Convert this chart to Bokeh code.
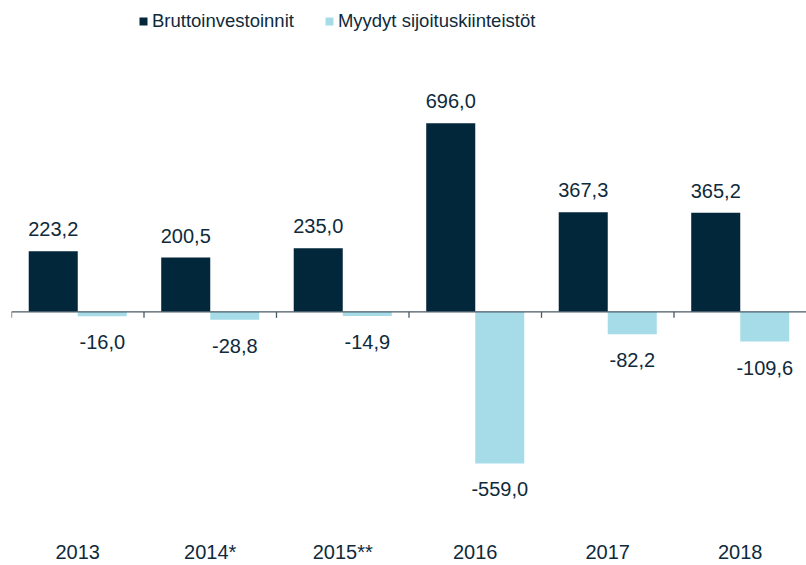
import math
from bokeh.plotting import figure
from bokeh.models import (ColumnDataSource, FactorRange, Range1d, CategoricalAxis,
                          Span, Legend, LegendItem)
from bokeh.transform import dodge
from bokeh.core.properties import value
from bokeh.embed import file_html
from bokeh.resources import INLINE

# ---- data ----
years = ["2013", "2014*", "2015**", "2016", "2017", "2018"]
brutto = [223.2, 200.5, 235.0, 696.0, 367.3, 365.2]
myydyt = [-16.0, -28.8, -14.9, -559.0, -82.2, -109.6]
series_names = ["Bruttoinvestoinnit", "Myydyt sijoituskiinteistöt"]

DARK = "#02263a"
LIGHT = "#a6dce8"
TXT = "#0e2a3b"
AXIS = "#4a5a66"
FONT = "Liberation Sans"


def fi(v):
    return f"{v:.1f}".replace(".", ",")


src = ColumnDataSource(dict(
    year=years, brutto=brutto, myydyt=myydyt,
    brutto_lbl=[fi(v) for v in brutto],
    myydyt_lbl=[fi(v) for v in myydyt],
))

p = figure(width=806, height=565,
           x_range=FactorRange(*years), y_range=Range1d(-788, 1119),
           x_axis_type=None, y_axis_type=None,
           output_backend="svg", toolbar_location=None,
           min_border_left=11, min_border_right=0,
           min_border_top=8, min_border_bottom=40)
p.outline_line_color = None
p.border_fill_color = "white"
p.background_fill_color = "white"
p.xgrid.visible = False
p.ygrid.visible = False

ax = CategoricalAxis()
ax.axis_line_color = None
ax.major_tick_line_color = None
ax.minor_tick_line_color = None
ax.major_label_standoff = 9
ax.major_label_text_font = FONT
ax.major_label_text_font_size = "20px"
ax.major_label_text_color = TXT
p.add_layout(ax, "below")

r1 = p.vbar(x=dodge("year", -0.185, range=p.x_range), top="brutto", bottom=0,
            width=0.37, source=src, fill_color=DARK, line_color=None)
r2 = p.vbar(x=dodge("year", 0.185, range=p.x_range), top="myydyt", bottom=0,
            width=0.37, source=src, fill_color=LIGHT, line_color=None)

# zero line and category boundary ticks
p.add_layout(Span(location=0, dimension="width", line_color=AXIS, line_width=1.3))
p.ray(x=dodge("year", -0.5, range=p.x_range), y=0, length=6, length_units="screen",
      angle=-math.pi / 2, line_color=AXIS, line_width=1.3, source=src)

p.text(x=dodge("year", -0.185, range=p.x_range), y="brutto", text="brutto_lbl",
       source=src, text_align="center", text_baseline="middle", y_offset=-22,
       text_font=value(FONT), text_font_size="20px", text_color=TXT)
p.text(x=dodge("year", 0.185, range=p.x_range), y="myydyt", text="myydyt_lbl",
       source=src, text_align="center", text_baseline="middle", y_offset=26,
       text_font=value(FONT), text_font_size="20px", text_color=TXT)

legend = Legend(items=[LegendItem(label=series_names[0], renderers=[r1]),
                       LegendItem(label=series_names[1], renderers=[r2])],
                orientation="horizontal", location=(127, 493),
                padding=0, margin=0, spacing=30,
                glyph_width=10, glyph_height=10, label_standoff=4,
                label_text_font=FONT, label_text_font_size="18.5px",
                label_text_color=TXT, border_line_color=None,
                background_fill_alpha=0)
p.add_layout(legend)

open("out.html", "w").write(file_html(p, INLINE))
